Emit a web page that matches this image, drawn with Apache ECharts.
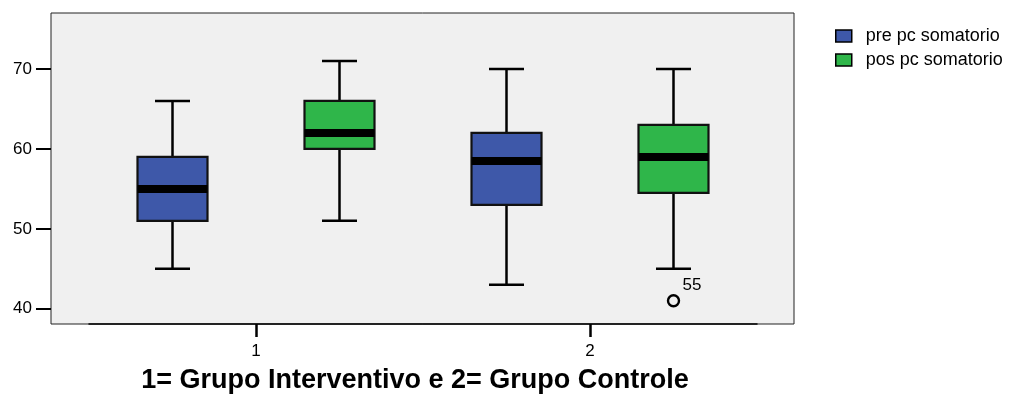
<!DOCTYPE html>
<html>
<head>
<meta charset="utf-8">
<title>pc somatorio por grupo</title>
<script src="https://cdn.jsdelivr.net/npm/echarts@6/dist/echarts.min.js"></script>
<style>
  html, body { margin: 0; padding: 0; background: #ffffff; }
  #chart { width: 1016px; height: 396px; }
</style>
</head>
<body>
<div id="chart"></div>
<script>
// Groups on the horizontal axis
const categories = ['1', '2'];
// Box statistics per group: [min, Q1, median, Q3, max]
const preStats = [
  [45, 51, 55, 59, 66],
  [43, 53, 58.5, 62, 70]
];
const posStats = [
  [51, 60, 62, 66, 71],
  [45, 54.5, 59, 63, 70]
];
// Outliers of "pos pc somatorio": group index, value, case number
const outlierGroup = [1];
const outlierValue = [41];
const outlierCase = ['55'];
// Value axis
const yTicks = [40, 50, 60, 70];
const yMin = 38.1;
const yMax = 77;

const seriesNames = ['pre pc somatorio', 'pos pc somatorio'];
const colors = ['#3e58a9', '#2fb64a'];
const FONT = '"Liberation Sans", Arial, Helvetica, sans-serif';

const BOX_RATIO = 70 / 334;   // box width relative to a group's band
const SHIFT = 0.25;           // offset of each box from the group centre

function boxSeries(name, stats, color, shift) {
  return {
    type: 'custom',
    name: name,
    xAxisIndex: 1,
    yAxisIndex: 1,
    itemStyle: { color: color },
    data: stats.map((s, i) => [i].concat(s)),
    encode: { x: 0, y: [1, 2, 3, 4, 5] },
    renderItem: function (params, api) {
      const band = api.size([1, 0])[0];
      const cat = api.value(0);
      const cx = api.coord([cat, 0])[0] + band * shift;
      const py = (d) => api.coord([cat, api.value(d)])[1];
      const yLo = py(1), yQ1 = py(2), yMed = py(3), yQ3 = py(4), yHi = py(5);
      const boxW = band * BOX_RATIO;
      const capW = boxW / 2;
      const ln = { stroke: '#000', lineWidth: 2.5 };
      return {
        type: 'group',
        children: [
          { type: 'line', shape: { x1: cx, y1: yHi, x2: cx, y2: yQ3 }, style: ln },
          { type: 'line', shape: { x1: cx, y1: yQ1, x2: cx, y2: yLo }, style: ln },
          { type: 'line', shape: { x1: cx - capW / 2, y1: yHi, x2: cx + capW / 2, y2: yHi }, style: ln },
          { type: 'line', shape: { x1: cx - capW / 2, y1: yLo, x2: cx + capW / 2, y2: yLo }, style: ln },
          {
            type: 'rect',
            shape: { x: cx - boxW / 2, y: yQ3, width: boxW, height: yQ1 - yQ3 },
            style: { fill: color, stroke: '#111', lineWidth: 2.2 }
          },
          {
            type: 'rect',
            shape: { x: cx - boxW / 2, y: yMed - 4, width: boxW, height: 8 },
            style: { fill: '#000' }
          }
        ]
      };
    }
  };
}

const outlierSeries = {
  type: 'custom',
  xAxisIndex: 1,
  yAxisIndex: 1,
  data: outlierGroup.map((g, i) => [g, outlierValue[i], outlierCase[i]]),
  encode: { x: 0, y: 1 },
  renderItem: function (params, api) {
    const band = api.size([1, 0])[0];
    const pt = api.coord([api.value(0), api.value(1)]);
    const cx = pt[0] + band * SHIFT;
    return {
      type: 'group',
      children: [
        {
          type: 'circle',
          shape: { cx: cx, cy: pt[1], r: 5.5 },
          style: { fill: 'none', stroke: '#000', lineWidth: 2.4 }
        },
        {
          type: 'text',
          x: cx + 9,
          y: pt[1] - 16,
          style: {
            text: String(api.value(2)),
            fill: '#000',
            fontSize: 17,
            fontFamily: FONT,
            align: 'left',
            verticalAlign: 'middle'
          }
        }
      ]
    };
  }
};

const chart = echarts.init(document.getElementById('chart'), null, { renderer: 'canvas' });

chart.setOption({
  animation: false,
  backgroundColor: '#ffffff',
  textStyle: { fontFamily: FONT },
  legend: {
    data: seriesNames,
    orient: 'vertical',
    left: 835,
    top: 27,
    padding: 0,
    icon: 'rect',
    itemWidth: 16,
    itemHeight: 12,
    itemGap: 6,
    itemStyle: { borderColor: '#000', borderWidth: 1.5 },
    textStyle: { fontSize: 18, color: '#000', fontFamily: FONT, padding: [0, 0, 0, 9] }
  },
  grid: [
    {
      left: 51, right: 222, top: 13, bottom: 72,
      show: true,
      backgroundColor: '#f0f0f0',
      borderColor: '#222',
      borderWidth: 1
    },
    { left: 89, right: 259, top: 13, bottom: 72 }
  ],
  xAxis: [
    { type: 'value', gridIndex: 0, show: false, min: 0, max: 1 },
    {
      type: 'category',
      gridIndex: 1,
      data: categories,
      axisLine: { show: true, lineStyle: { color: '#000', width: 1.5 } },
      axisTick: { show: true, alignWithLabel: true, length: 13, lineStyle: { color: '#000', width: 2.5 } },
      axisLabel: { fontSize: 17, color: '#000', margin: 19, fontFamily: FONT },
      splitLine: { show: false }
    }
  ],
  yAxis: [
    {
      type: 'value',
      gridIndex: 0,
      min: yMin,
      max: yMax,
      axisLine: { show: false },
      axisTick: {
        show: true,
        customValues: yTicks,
        length: 15,
        lineStyle: { color: '#000', width: 2 }
      },
      axisLabel: {
        customValues: yTicks,
        fontSize: 17,
        color: '#000',
        margin: 19,
        fontFamily: FONT
      },
      splitLine: { show: false }
    },
    { type: 'value', gridIndex: 1, min: yMin, max: yMax, show: false }
  ],
  graphic: [
    {
      type: 'text',
      x: 415,
      y: 381,
      style: {
        text: '1= Grupo Interventivo e 2= Grupo Controle',
        fill: '#000',
        fontSize: 27,
        fontWeight: 'bold',
        fontFamily: FONT,
        align: 'center',
        verticalAlign: 'middle'
      }
    }
  ],
  series: [
    boxSeries(seriesNames[0], preStats, colors[0], -SHIFT),
    boxSeries(seriesNames[1], posStats, colors[1], SHIFT),
    outlierSeries
  ]
});
</script>
</body>
</html>
